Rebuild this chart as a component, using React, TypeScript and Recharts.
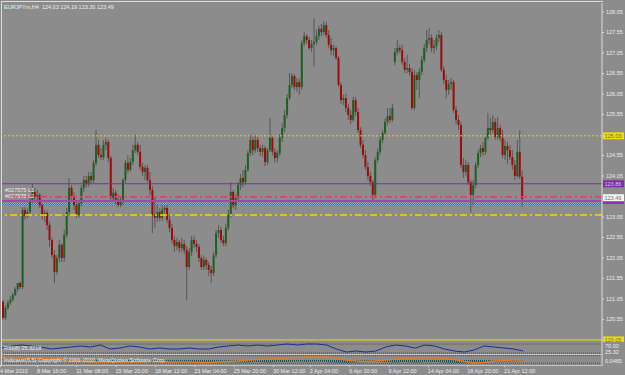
import React from "react";
import {
  ComposedChart,
  Bar,
  Line,
  Area,
  XAxis,
  YAxis,
  ReferenceLine,
  ReferenceArea,
} from "recharts";

// EURJPYm H4 bars, 4 Mar - 22 Apr 2010
const opens = [
  120.98, 120.59, 120.83, 120.95, 121.03, 121.15, 121.29, 121.44, 121.34, 123.22,
  123.07, 123.17, 123.47, 123.66, 123.54, 123.59, 123.34, 123.1, 123.15, 122.85,
  122.49, 122.12, 121.71, 122.05, 122.37, 122.05, 122.61, 123.17, 123.76, 123.56,
  123.34, 123.1, 123.39, 123.76, 123.95, 123.85, 124.05, 123.95, 124.37, 124.81,
  124.56, 124.51, 124.81, 124.88, 124.49, 123.51, 123.64, 123.47, 123.34, 123.47,
  123.95, 124.37, 124.2, 124.39, 124.68, 124.81, 124.64, 124.27, 124.15, 124.25,
  123.95, 123.71, 123.1, 123.03, 123.17, 123.03, 123.22, 123.27, 122.98, 122.78,
  122.49, 122.34, 122.44, 122.29, 122.39, 122.24, 121.83, 122.2, 122.49, 122.39,
  122.32, 122.05, 121.83, 122.0, 121.88, 121.76, 121.68, 122.12, 122.66, 122.73,
  122.49, 122.41, 122.78, 123.1, 123.66, 123.34, 123.51, 123.83, 124.0, 123.9,
  124.2, 124.61, 124.93, 124.68, 124.93, 124.73, 124.64, 124.73, 124.39, 124.68,
  124.98, 124.64, 124.49, 124.61, 124.98, 125.22, 125.54, 125.95, 126.27, 126.49,
  126.22, 126.34, 126.22, 127.29, 127.46, 127.37, 127.17, 127.27, 127.32, 127.46,
  127.64, 127.56, 127.73, 127.49, 127.25, 127.12, 127.17, 126.93, 126.27, 125.9,
  125.95, 125.71, 125.54, 125.42, 125.9, 125.61, 125.17, 124.81, 124.56, 124.27,
  124.05, 123.9, 123.59, 124.44, 124.64, 124.93, 125.1, 125.37, 125.51, 125.42,
  126.83, 127.07, 127.17, 127.12, 126.83, 126.64, 126.68, 126.59, 125.71, 126.51,
  126.39, 126.59, 126.88, 127.17, 127.37, 127.42, 127.17, 127.22, 127.42, 127.49,
  126.64, 126.39, 126.15, 126.29, 126.34, 125.66, 125.42, 125.29, 124.32, 124.15,
  124.32, 123.9, 123.59, 123.83, 124.32, 124.61, 124.73, 124.64, 124.98, 125.22,
  125.17, 125.37, 125.0, 125.22, 124.98, 124.56, 124.78, 124.68, 124.51, 124.32,
  124.05, 124.64, 124.03,
];
const highs = [
  121.03, 120.9, 121.03, 121.12, 121.2, 121.34, 121.44, 121.47, 123.29, 123.29,
  123.25, 123.56, 123.88, 123.76, 123.71, 123.64, 123.39, 123.22, 123.2, 122.93,
  122.54, 122.24, 122.12, 122.49, 122.41, 122.73, 123.27, 124.0, 123.83, 123.66,
  123.42, 123.47, 123.83, 124.05, 124.05, 124.15, 124.15, 124.44, 125.17, 124.93,
  124.73, 124.93, 124.98, 124.93, 124.54, 123.76, 123.71, 123.59, 123.56, 124.0,
  124.44, 124.56, 124.49, 124.81, 125.05, 124.88, 124.81, 124.37, 124.32, 124.32,
  124.15, 123.81, 123.54, 123.34, 123.27, 123.34, 123.34, 123.34, 123.1, 122.88,
  122.59, 122.54, 122.49, 122.54, 122.49, 122.34, 122.29, 122.59, 122.59, 122.49,
  122.39, 122.12, 122.1, 122.05, 121.95, 121.86, 122.2, 122.73, 122.85, 122.81,
  122.59, 122.88, 123.22, 123.9, 123.71, 123.59, 123.9, 124.1, 124.2, 124.32,
  124.68, 125.05, 125.05, 125.03, 125.0, 124.81, 124.81, 124.78, 124.73, 125.46,
  125.05, 124.73, 124.68, 125.07, 125.34, 125.66, 126.05, 126.56, 126.56, 126.54,
  126.44, 126.42, 127.37, 127.56, 127.51, 127.44, 127.37, 127.9, 127.61, 127.71,
  127.76, 127.83, 127.81, 127.61, 127.42, 127.25, 127.22, 126.98, 126.34, 126.03,
  126.05, 125.81, 125.66, 125.98, 125.98, 125.71, 125.24, 124.93, 124.68, 124.39,
  124.15, 123.95, 124.51, 124.73, 125.03, 125.17, 125.46, 125.71, 125.71, 125.81,
  127.17, 127.37, 127.25, 127.25, 126.93, 127.0, 126.78, 126.68, 126.64, 126.59,
  126.68, 126.98, 127.27, 127.61, 127.66, 127.51, 127.37, 127.51, 127.61, 127.56,
  126.73, 126.51, 126.39, 126.44, 126.39, 125.76, 125.54, 125.37, 124.49, 124.44,
  124.39, 123.95, 123.95, 124.39, 124.68, 124.81, 124.88, 125.07, 125.59, 125.46,
  125.54, 125.46, 125.49, 125.29, 125.17, 124.93, 124.88, 124.81, 124.68, 124.44,
  124.93, 125.17, 124.19,
];
const lows = [
  120.54, 120.54, 120.78, 120.9, 120.98, 121.12, 121.22, 121.29, 121.29, 122.98,
  123.03, 123.12, 123.39, 123.47, 123.39, 123.27, 122.98, 122.93, 122.73, 122.32,
  122.05, 121.44, 121.64, 121.95, 121.95, 121.95, 122.54, 123.1, 123.47, 123.22,
  123.03, 123.03, 123.32, 123.66, 123.76, 123.78, 123.85, 123.88, 124.29, 124.49,
  124.44, 124.44, 124.68, 124.39, 123.42, 123.42, 123.37, 123.29, 123.29, 123.34,
  123.88, 124.12, 124.15, 124.32, 124.61, 124.56, 124.2, 124.05, 123.95, 123.9,
  123.59, 122.66, 122.78, 122.93, 122.95, 122.95, 123.1, 122.9, 122.68, 122.41,
  122.2, 122.24, 122.17, 122.2, 122.15, 121.03, 121.76, 122.1, 122.29, 122.2,
  121.95, 121.76, 121.76, 121.76, 121.61, 121.44, 121.61, 122.05, 122.54, 122.41,
  122.34, 122.34, 122.71, 123.03, 123.27, 123.22, 123.42, 123.71, 123.78, 123.83,
  124.15, 124.54, 124.56, 124.61, 124.64, 124.54, 124.51, 124.29, 124.32, 124.64,
  124.56, 124.37, 124.39, 124.54, 124.88, 125.12, 125.46, 125.9, 126.2, 126.15,
  126.1, 126.03, 126.15, 127.22, 127.27, 127.12, 127.07, 126.71, 127.25, 127.37,
  127.46, 127.49, 127.42, 127.17, 127.0, 126.98, 126.88, 126.22, 125.81, 125.78,
  125.61, 125.42, 125.32, 125.37, 125.51, 125.1, 124.73, 124.49, 124.2, 123.95,
  123.81, 123.42, 123.51, 124.37, 124.56, 124.85, 125.03, 125.29, 125.34, 125.37,
  126.76, 127.0, 127.05, 126.76, 126.56, 126.56, 126.49, 125.66, 125.66, 126.15,
  125.95, 126.51, 126.81, 127.07, 127.25, 127.07, 127.03, 127.12, 127.32, 126.59,
  126.29, 125.95, 126.03, 126.15, 125.59, 125.32, 125.17, 124.25, 124.0, 124.05,
  123.83, 123.15, 123.34, 123.76, 124.25, 124.51, 124.54, 124.56, 124.93, 125.07,
  125.1, 124.93, 124.93, 124.9, 124.49, 124.44, 124.34, 124.44, 124.2, 123.95,
  124.0, 123.97, 123.3,
];
const closes = [
  120.59, 120.83, 120.95, 121.03, 121.15, 121.29, 121.44, 121.34, 123.22, 123.07,
  123.17, 123.47, 123.66, 123.54, 123.59, 123.34, 123.1, 123.15, 122.85, 122.49,
  122.12, 121.71, 122.05, 122.37, 122.05, 122.61, 123.17, 123.76, 123.56, 123.34,
  123.1, 123.39, 123.76, 123.95, 123.85, 124.05, 123.95, 124.37, 124.81, 124.56,
  124.51, 124.81, 124.88, 124.49, 123.51, 123.64, 123.47, 123.34, 123.47, 123.95,
  124.37, 124.2, 124.39, 124.68, 124.81, 124.64, 124.27, 124.15, 124.25, 123.95,
  123.71, 123.1, 123.03, 123.17, 123.03, 123.22, 123.27, 122.98, 122.78, 122.49,
  122.34, 122.44, 122.29, 122.39, 122.24, 121.83, 122.2, 122.49, 122.39, 122.32,
  122.05, 121.83, 122.0, 121.88, 121.76, 121.68, 122.12, 122.66, 122.73, 122.49,
  122.41, 122.78, 123.1, 123.66, 123.34, 123.51, 123.83, 124.0, 123.9, 124.2,
  124.61, 124.93, 124.68, 124.93, 124.73, 124.64, 124.73, 124.39, 124.68, 124.98,
  124.64, 124.49, 124.61, 124.98, 125.22, 125.54, 125.95, 126.27, 126.49, 126.22,
  126.34, 126.22, 127.29, 127.46, 127.37, 127.17, 127.27, 127.32, 127.46, 127.64,
  127.56, 127.73, 127.49, 127.25, 127.12, 127.17, 126.93, 126.27, 125.9, 125.95,
  125.71, 125.54, 125.42, 125.9, 125.61, 125.17, 124.81, 124.56, 124.27, 124.05,
  123.9, 123.59, 124.44, 124.64, 124.93, 125.1, 125.37, 125.51, 125.42, 125.71,
  127.07, 127.17, 127.12, 126.83, 126.64, 126.68, 126.59, 125.71, 126.51, 126.39,
  126.59, 126.88, 127.17, 127.37, 127.42, 127.17, 127.22, 127.42, 127.49, 126.64,
  126.39, 126.15, 126.29, 126.34, 125.66, 125.42, 125.29, 124.32, 124.15, 124.32,
  123.9, 123.59, 123.83, 124.32, 124.61, 124.73, 124.64, 124.98, 125.22, 125.17,
  125.37, 125.0, 125.22, 124.98, 124.56, 124.78, 124.68, 124.51, 124.32, 124.05,
  124.64, 124.03, 123.49,
];

// lower windows, one reading every 4 bars
const SAMPLE_STEP = 4;
const rsiValues = [
  52.2, 61.1, 65.5, 61.1, 56.6, 47.8, 52.2, 56.6, 61.1, 56.6,
  65.5, 47.8, 52.2, 61.1, 56.6, 47.8, 52.2, 47.8, 47.8, 52.2,
  47.8, 47.8, 56.6, 61.1, 65.5, 61.1, 65.5, 61.1, 65.5, 70.0,
  65.5, 70.0, 70.0, 65.5, 47.8, 34.4, 38.9, 34.4, 38.9, 56.6,
  65.5, 61.1, 52.2, 65.5, 61.1, 47.8, 38.9, 34.4, 43.3, 61.1,
  56.6, 52.2, 47.8, 38.9,
];
const oscValues = [
  0.6, 0.5, 0.4, 0.4, 0.3, 0.2, 0.2, 0, -0.2, -0.4,
  -0.4, -0.4, -0.4, -0.4, -0.4, -0.3, -0.3, -0.4, -0.4, -0.4,
  -0.5, -0.5, -0.4, -0.3, -0.2, 0, 0.1, 0.2, 0.3, 0.4,
  0.5, 0.6, 0.6, 0.6, 0.4, 0, -0.2, -0.3, -0.2, 0,
  0.2, 0.3, 0.4, 0.4, 0.4, 0.3, 0.1, -0.3, -0.6, -0.5,
  -0.2, -0.1, 0, 0,
];
const histValues = [
  0.1, 0.1, 0.2, 0.1, 0.1, 0, 0, -0.1, -0.1, -0.2,
  -0.2, -0.3, -0.2, -0.2, -0.3, -0.3, -0.4, -0.4, -0.5, -0.5,
  -0.5, -0.6, -0.5, -0.4, -0.5, -0.5, -0.4, -0.5, -0.4, -0.4,
  -0.3, -0.4, -0.3, -0.4, -0.5, -0.6, -0.5, -0.4, -0.3, -0.4,
  -0.5, -0.4, -0.5, -0.4, -0.4, -0.5, -0.6, -0.6, -0.5, -0.4,
  -0.4, -0.3, -0.3, -0.2,
];

const priceTicks = [
  128.05, 127.55, 127.05, 126.55, 126.05, 125.55, 124.55, 124.05,
  123.05, 122.55, 122.05, 121.55, 121.05, 120.55,
];
const timeTickBars = [0, 15, 31, 47, 63, 79, 95, 111, 126, 142, 158, 174, 190, 205];
const timeTickLabels = [
  "4 Mar 2010", "8 Mar 16:00", "11 Mar 08:00", "15 Mar 20:00", "18 Mar 12:00",
  "23 Mar 04:00", "25 Mar 20:00", "30 Mar 12:00", "2 Apr 04:00", "6 Apr 20:00",
  "9 Apr 12:00", "14 Apr 04:00", "18 Apr 20:00", "21 Apr 12:00",
];

const SLOTS = 245;
const FONT = "'Liberation Sans', Arial, sans-serif";
const BG = "#8c8c8c";
const FRAME = "#dcdcdc";
const TXT = "#ececec";
const BULL = "#1f6021";
const BEAR = "#a00a0a";
const WICK = "#575757";

const rows = Array.from({ length: SLOTS }, (_, i) => {
  const row: any = { i };
  if (i < closes.length) {
    row.o = opens[i];
    row.h = highs[i];
    row.l = lows[i];
    row.c = closes[i];
    row.range = [lows[i], highs[i]];
  }
  const k = i / SAMPLE_STEP;
  if (i % SAMPLE_STEP === 0 && k < rsiValues.length) {
    row.rsi = rsiValues[k];
    row.osc = oscValues[k];
    row.hist = histValues[k];
  }
  return row;
});

function Candle(props: any) {
  const { x, y, width, height, payload } = props;
  if (!payload || payload.c == null) return <g />;
  const top = Math.min(y, y + height);
  const span = Math.abs(height);
  const k = span / Math.max(payload.h - payload.l, 0.0001);
  const yO = top + (payload.h - payload.o) * k;
  const yC = top + (payload.h - payload.c) * k;
  const cx = x + width / 2;
  return (
    <g>
      <line x1={cx} x2={cx} y1={top} y2={top + span} stroke={WICK} strokeWidth={1} />
      <rect
        x={cx - 1}
        y={Math.min(yO, yC)}
        width={2}
        height={Math.max(1, Math.abs(yC - yO))}
        fill={payload.c >= payload.o ? BULL : BEAR}
      />
    </g>
  );
}

function PriceBox(props: any) {
  const { viewBox, text, bg, fg } = props;
  if (!viewBox) return null;
  const x = viewBox.x + viewBox.width + 1;
  const y = viewBox.y;
  return (
    <g>
      <rect x={x} y={y - 3.5} width={21} height={7} fill={bg} />
      <text x={x + 1.5} y={y + 2} fontSize={5.5} fontFamily={FONT} fill={fg}>
        {text}
      </text>
    </g>
  );
}

// label box whose text is hidden under the bid box, only its edge shows
function EdgeBox(props: any) {
  const { viewBox, bg } = props;
  if (!viewBox) return null;
  const x = viewBox.x + viewBox.width + 1;
  return <rect x={x} y={viewBox.y - 1} width={21} height={4} fill={bg} />;
}

function TimeTick(props: any) {
  const { x, y, payload } = props;
  const idx = timeTickBars.indexOf(payload.value);
  return (
    <g>
      <line x1={x - 1.5} x2={x - 1.5} y1={y} y2={y + 2} stroke={FRAME} />
      <text x={x - 2} y={y + 7.5} fontSize={5.5} fontFamily={FONT} fill={TXT}>
        {idx >= 0 ? timeTickLabels[idx] : ""}
      </text>
    </g>
  );
}

const small: React.CSSProperties = {
  position: "absolute",
  fontFamily: FONT,
  fontSize: "5.5px",
  lineHeight: "6px",
  color: TXT,
  whiteSpace: "nowrap",
};

export default function App() {
  const margin = { top: 0, right: 0, bottom: 0, left: 2 };
  return (
    <div
      style={{
        position: "absolute",
        left: 0,
        top: 0,
        width: 625,
        height: 375,
        background: BG,
        overflow: "hidden",
      }}
    >
      {/* main price window */}
      <div style={{ position: "absolute", left: 0, top: 3 }}>
        <ComposedChart
          width={625}
          height={339}
          data={rows}
          margin={margin}
          barCategoryGap={0}
          barGap={0}
        >
          <defs>
            <pattern id="chk" width="2" height="2" patternUnits="userSpaceOnUse">
              <rect width="2" height="2" fill="#86b4da" />
              <rect width="1" height="1" fill="#2f74bd" />
              <rect x="1" y="1" width="1" height="1" fill="#2f74bd" />
            </pattern>
          </defs>
          <XAxis dataKey="i" hide />
          <YAxis
            orientation="right"
            width={23}
            domain={[120.0, 128.27]}
            allowDataOverflow
            ticks={priceTicks}
            interval={0}
            tickSize={2}
            tickMargin={2}
            tickFormatter={(v: number) => v.toFixed(2)}
            tick={{ fontSize: 5.5, fill: TXT, fontFamily: FONT }}
            tickLine={{ stroke: FRAME }}
            axisLine={{ stroke: FRAME }}
          />
          <Bar dataKey="range" shape={(p: any) => <Candle {...p} />} isAnimationActive={false} />
          <ReferenceArea y1={123.32} y2={123.4} fill="url(#chk)" fillOpacity={1} stroke="none" />
          <ReferenceLine
            y={125.03}
            stroke="#ecd800"
            strokeDasharray="2 2"
            label={<PriceBox text="125.03" bg="#f0dc00" fg="#6a6a6a" />}
          />
          <ReferenceLine
            y={123.86}
            stroke="#7d2fa6"
            strokeWidth={1.2}
            label={<PriceBox text="123.86" bg="#7d2fa6" fg="#d8c8e8" />}
          />
          <ReferenceLine y={123.54} stroke="#d4456a" strokeWidth={1.8} strokeDasharray="7 3 2 3" />
          <ReferenceLine
            y={123.44}
            stroke="#a346aa"
            strokeWidth={2}
            label={<EdgeBox bg="#8a36a8" />}
          />
          <ReferenceLine
            y={123.52}
            stroke="none"
            strokeOpacity={0}
            label={<PriceBox text="123.49" bg="#f4f4f4" fg="#707070" />}
          />
          <ReferenceLine y={123.1} stroke="#f0d800" strokeWidth={1.5} strokeDasharray="7 3 2 3" />
          <ReferenceLine
            y={120.05}
            stroke="#f0d800"
            strokeWidth={1}
            label={<PriceBox text="120.05" bg="#f0dc00" fg="#6a6a6a" />}
          />
        </ComposedChart>
      </div>

      {/* oscillator window */}
      <div style={{ position: "absolute", left: 0, top: 342 }}>
        <ComposedChart width={625} height={12} data={rows} margin={margin}>
          <XAxis dataKey="i" hide />
          <YAxis
            orientation="right"
            width={23}
            domain={[25.6, 78.9]}
            allowDataOverflow
            tick={false}
            tickLine={false}
            axisLine={{ stroke: FRAME }}
          />
          <ReferenceLine y={70} stroke="#4a4a4a" strokeDasharray="1 1" />
          <ReferenceLine y={30} stroke="#4a4a4a" strokeDasharray="1 1" />
          <Line
            dataKey="rsi"
            stroke="#1f2a98"
            strokeWidth={1}
            dot={false}
            connectNulls
            isAnimationActive={false}
          />
        </ComposedChart>
      </div>

      {/* histogram window with time axis */}
      <div style={{ position: "absolute", left: 0, top: 355 }}>
        <ComposedChart width={625} height={19} data={rows} margin={margin}>
          <defs>
            <pattern id="stripe" width="2" height="4" patternUnits="userSpaceOnUse">
              <rect width="1" height="4" fill="#1f4d4f" />
            </pattern>
          </defs>
          <XAxis
            dataKey="i"
            height={9}
            ticks={timeTickBars}
            interval={0}
            tickSize={0}
            tickMargin={0}
            tickLine={false}
            axisLine={false}
            tick={(p: any) => <TimeTick {...p} />}
          />
          <YAxis
            orientation="right"
            width={23}
            domain={[-1, 1]}
            allowDataOverflow
            tick={false}
            tickLine={false}
            axisLine={{ stroke: FRAME }}
          />
          <ReferenceLine y={0.85} stroke="#4a4a4a" strokeDasharray="1 1" />
          <ReferenceLine y={-0.65} stroke="#4a4a4a" strokeDasharray="1 1" />
          <Area
            dataKey="hist"
            baseValue={0}
            stroke="none"
            fill="url(#stripe)"
            fillOpacity={1}
            connectNulls
            isAnimationActive={false}
          />
          <Line
            dataKey="osc"
            stroke="#e27a26"
            strokeWidth={1.5}
            dot={false}
            connectNulls
            isAnimationActive={false}
          />
        </ComposedChart>
      </div>

      {/* frame and window separators */}
      <div style={{ position: "absolute", left: 1, top: 1, width: 602, height: 1, background: FRAME }} />
      <div style={{ position: "absolute", left: 1, top: 1, width: 1, height: 365, background: FRAME }} />
      <div style={{ position: "absolute", left: 1, top: 354, width: 602, height: 1, background: "#c4c4c4" }} />
      <div style={{ position: "absolute", left: 1, top: 365, width: 602, height: 1, background: "#c4c4c4" }} />

      {/* texts */}
      <div style={{ ...small, left: 4, top: 4 }}>EURJPYm,H4&nbsp; 124.03 124.19 123.30 123.49</div>
      <div style={{ ...small, left: 5, top: 187 }}>#027575 L1</div>
      <div style={{ ...small, left: 5, top: 193 }}>#027575 L2</div>
      <div style={{ ...small, left: 4, top: 345 }}>RSI(8) 25.3218</div>
      <div style={{ ...small, left: 4, top: 357 }}>
        Indicator(5,5) Copyright © 2001-2010, MetaQuotes Software Corp.
      </div>
      <div style={{ ...small, left: 605, top: 343 }}>70.00</div>
      <div style={{ ...small, left: 605, top: 349 }}>25.32</div>
      <div style={{ ...small, left: 605, top: 358 }}>0.0465</div>
    </div>
  );
}
